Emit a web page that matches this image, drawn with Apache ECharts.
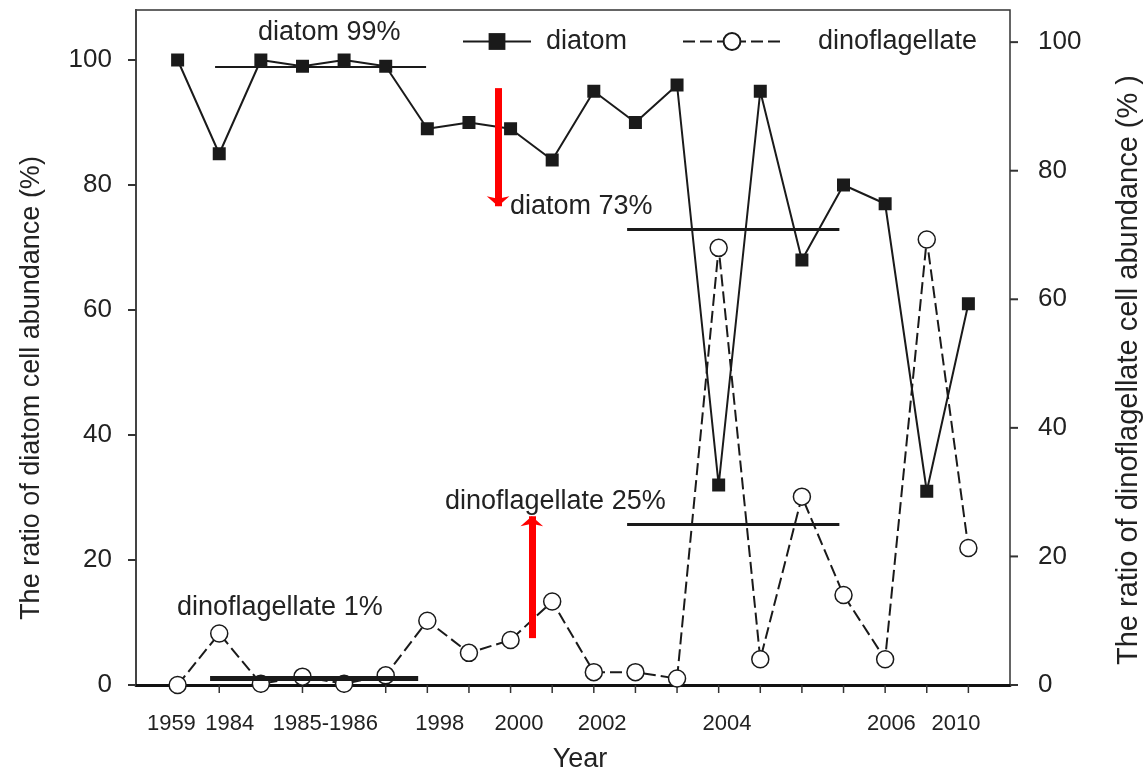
<!DOCTYPE html>
<html>
<head>
<meta charset="utf-8">
<title>Diatom and dinoflagellate cell abundance ratio</title>
<script src="https://cdn.jsdelivr.net/npm/echarts@6/dist/echarts.min.js"></script>
<style>
  html, body { margin: 0; padding: 0; background: #fff; }
  #chart { width: 1146px; height: 775px; }
</style>
</head>
<body>
<div id="chart"></div>
<script>
// Sampling sequence: one entry per survey, in order along the x axis
const sampleIndex = [1, 2, 3, 4, 5, 6, 7, 8, 9, 10, 11, 12, 13, 14, 15, 16, 17, 18, 19, 20];

// Ratio of diatom cell abundance (%) — left axis
const diatomValues = [100, 85, 100, 99, 100, 99, 89, 90, 89, 84, 95, 90, 96, 32, 95, 68, 80, 77, 31, 61];

// Ratio of dinoflagellate cell abundance (%) — right axis
const dinoValues = [0, 8, 0.2, 1.3, 0.2, 1.5, 10, 5, 7, 13, 2, 2, 1, 68, 4, 29.3, 14, 4, 69.3, 21.3];

// Year labels under the axis and where they sit along the sample sequence
const yearLabels = ['1959', '1984', '1985-1986', '1998', '2000', '2002', '2004', '2006', '2010'];
const yearLabelAt = [0.85, 2.25, 4.55, 7.3, 9.2, 11.2, 14.2, 18.15, 19.7];

// Y-axis tick values (both sides)
const yTicks = [0, 20, 40, 60, 80, 100];

// Period means drawn as horizontal bars: [from, to, value]
const diatomMeans = [[1.9, 6.97, 99], [11.8, 16.9, 73]];
const dinoMeans = [[1.78, 6.78, 1], [11.8, 16.9, 25]];

const FONT = '"Liberation Sans", Arial, Helvetica, sans-serif';
const INK = '#1a1a1a';
const TXT = '#222';
const TICK_LEN = 8;

const chart = echarts.init(document.getElementById('chart'), null, { renderer: 'canvas' });

const pair = (vals) => vals.map((v, i) => [sampleIndex[i], v]);

function yAxisSpec(position, max, margin) {
  return {
    type: 'value', min: 0, max: max, position: position,
    axisLine: { show: true, lineStyle: { color: '#444', width: 2 } },
    axisTick: { show: false },
    axisLabel: { customValues: yTicks.slice(), margin: margin, fontSize: 26, color: TXT, fontFamily: FONT },
    splitLine: { show: false }
  };
}

const option = {
  animation: false,
  backgroundColor: '#fff',
  textStyle: { fontFamily: FONT },
  grid: {
    left: 136, right: 136, top: 10, bottom: 90,
    show: true, borderColor: '#333', borderWidth: 1.5, backgroundColor: 'transparent'
  },
  legend: [
    {
      data: ['diatom'],
      left: 462, top: 28, padding: 0,
      itemWidth: 68, itemHeight: 21,
      textStyle: { fontSize: 27, color: TXT, fontFamily: FONT, padding: [0, 0, 0, 10] }
    },
    {
      data: ['dinoflagellate'],
      left: 682, top: 28, padding: 0,
      itemWidth: 98, itemHeight: 21,
      textStyle: { fontSize: 27, color: TXT, fontFamily: FONT, padding: [0, 0, 0, 32] }
    }
  ],
  xAxis: [
    {
      type: 'value', min: 0, max: 21, position: 'bottom',
      axisLine: { show: true, onZero: false, lineStyle: { color: '#111', width: 3 } },
      axisTick: { show: false },
      axisLabel: { show: false },
      splitLine: { show: false }
    },
    {
      type: 'value', min: 0, max: 21, position: 'bottom',
      axisLine: { show: false },
      axisTick: { show: false },
      splitLine: { show: false },
      axisLabel: {
        show: true, margin: 28,
        customValues: yearLabelAt.slice(),
        fontSize: 22, color: TXT, fontFamily: FONT,
        formatter: (v) => {
          const k = yearLabelAt.findIndex((p) => Math.abs(p - v) < 1e-6);
          return k >= 0 ? yearLabels[k] : '';
        }
      }
    }
  ],
  yAxis: [
    yAxisSpec('left', 108, 24),
    yAxisSpec('right', 105, 28)
  ],
  series: [
    {
      name: 'diatom',
      type: 'line',
      xAxisIndex: 0, yAxisIndex: 0,
      data: pair(diatomValues),
      symbol: 'rect', symbolSize: 13,
      itemStyle: { color: INK },
      lineStyle: { color: INK, width: 2 },
      z: 4,
      markLine: {
        silent: true, animation: false,
        label: { show: false },
        data: [
          // period means for diatom
          [
            { coord: [diatomMeans[0][0], diatomMeans[0][2]], symbol: 'none', lineStyle: { color: INK, width: 2, type: 'solid' } },
            { coord: [diatomMeans[0][1], diatomMeans[0][2]], symbol: 'none' }
          ],
          [
            { coord: [diatomMeans[1][0], diatomMeans[1][2]], symbol: 'none', lineStyle: { color: INK, width: 3, type: 'solid' } },
            { coord: [diatomMeans[1][1], diatomMeans[1][2]], symbol: 'none' }
          ],
          // red shift arrows
          [
            { coord: [8.7, 95.5], symbol: 'none', lineStyle: { color: '#ff0000', width: 7, type: 'solid' } },
            { coord: [8.7, 76.6], symbol: 'arrow', symbolSize: [17, 10] }
          ],
          [
            { coord: [9.51, 7.5], symbol: 'none', lineStyle: { color: '#ff0000', width: 7, type: 'solid' } },
            { coord: [9.51, 27.0], symbol: 'arrow', symbolSize: [17, 10] }
          ]
        ]
      }
    },
    {
      name: 'dinoflagellate',
      type: 'line',
      xAxisIndex: 0, yAxisIndex: 1,
      data: pair(dinoValues),
      symbol: 'circle', symbolSize: 17,
      itemStyle: { color: '#fff', borderColor: INK, borderWidth: 1.5 },
      lineStyle: { color: INK, width: 2, type: [12, 5] },
      z: 3,
      markLine: {
        silent: true, animation: false,
        label: { show: false },
        data: [
          [
            { coord: [dinoMeans[0][0], dinoMeans[0][2]], symbol: 'none', lineStyle: { color: INK, width: 5, type: 'solid' } },
            { coord: [dinoMeans[0][1], dinoMeans[0][2]], symbol: 'none' }
          ],
          [
            { coord: [dinoMeans[1][0], dinoMeans[1][2]], symbol: 'none', lineStyle: { color: INK, width: 3, type: 'solid' } },
            { coord: [dinoMeans[1][1], dinoMeans[1][2]], symbol: 'none' }
          ]
        ]
      }
    }
  ]
};

chart.setOption(option);

// Titles and period annotations
const textEl = (x, y, text, size, rot, align) => ({
  type: 'text', x: x, y: y, rotation: rot || 0, z: 10,
  style: { text: text, font: size + 'px ' + FONT, fill: TXT, align: align || 'left', verticalAlign: 'middle' }
});
const graphics = [
  textEl(32, 388, 'The ratio of diatom cell abundance (%)', 27, Math.PI / 2, 'center'),
  textEl(1129, 370, 'The ratio of dinoflagellate cell abundance (% )', 29, Math.PI / 2, 'center'),
  textEl(580, 760, 'Year', 27, 0, 'center'),
  textEl(258, 33, 'diatom 99%', 27),
  textEl(510, 207, 'diatom 73%', 27),
  textEl(445, 502, 'dinoflagellate 25%', 27),
  textEl(177, 608, 'dinoflagellate 1%', 27)
];

// Outward tick marks, placed through each axis' own scale
const tickStyle = { stroke: '#333', lineWidth: 2 };
const xLeft = chart.convertToPixel({ xAxisIndex: 0 }, 0);
const xRight = chart.convertToPixel({ xAxisIndex: 0 }, 21);
const yBase = chart.convertToPixel({ yAxisIndex: 0 }, 0);
yTicks.forEach((v) => {
  const yl = chart.convertToPixel({ yAxisIndex: 0 }, v);
  const yr = chart.convertToPixel({ yAxisIndex: 1 }, v);
  graphics.push({ type: 'line', z: 5, shape: { x1: xLeft - TICK_LEN, y1: yl, x2: xLeft, y2: yl }, style: tickStyle });
  graphics.push({ type: 'line', z: 5, shape: { x1: xRight, y1: yr, x2: xRight + TICK_LEN, y2: yr }, style: tickStyle });
});
sampleIndex.forEach((s) => {
  const x = chart.convertToPixel({ xAxisIndex: 0 }, s);
  graphics.push({ type: 'line', z: 1, shape: { x1: x, y1: yBase, x2: x, y2: yBase + TICK_LEN }, style: { stroke: '#333', lineWidth: 1.5 } });
});

chart.setOption({ graphic: graphics });
</script>
</body>
</html>
